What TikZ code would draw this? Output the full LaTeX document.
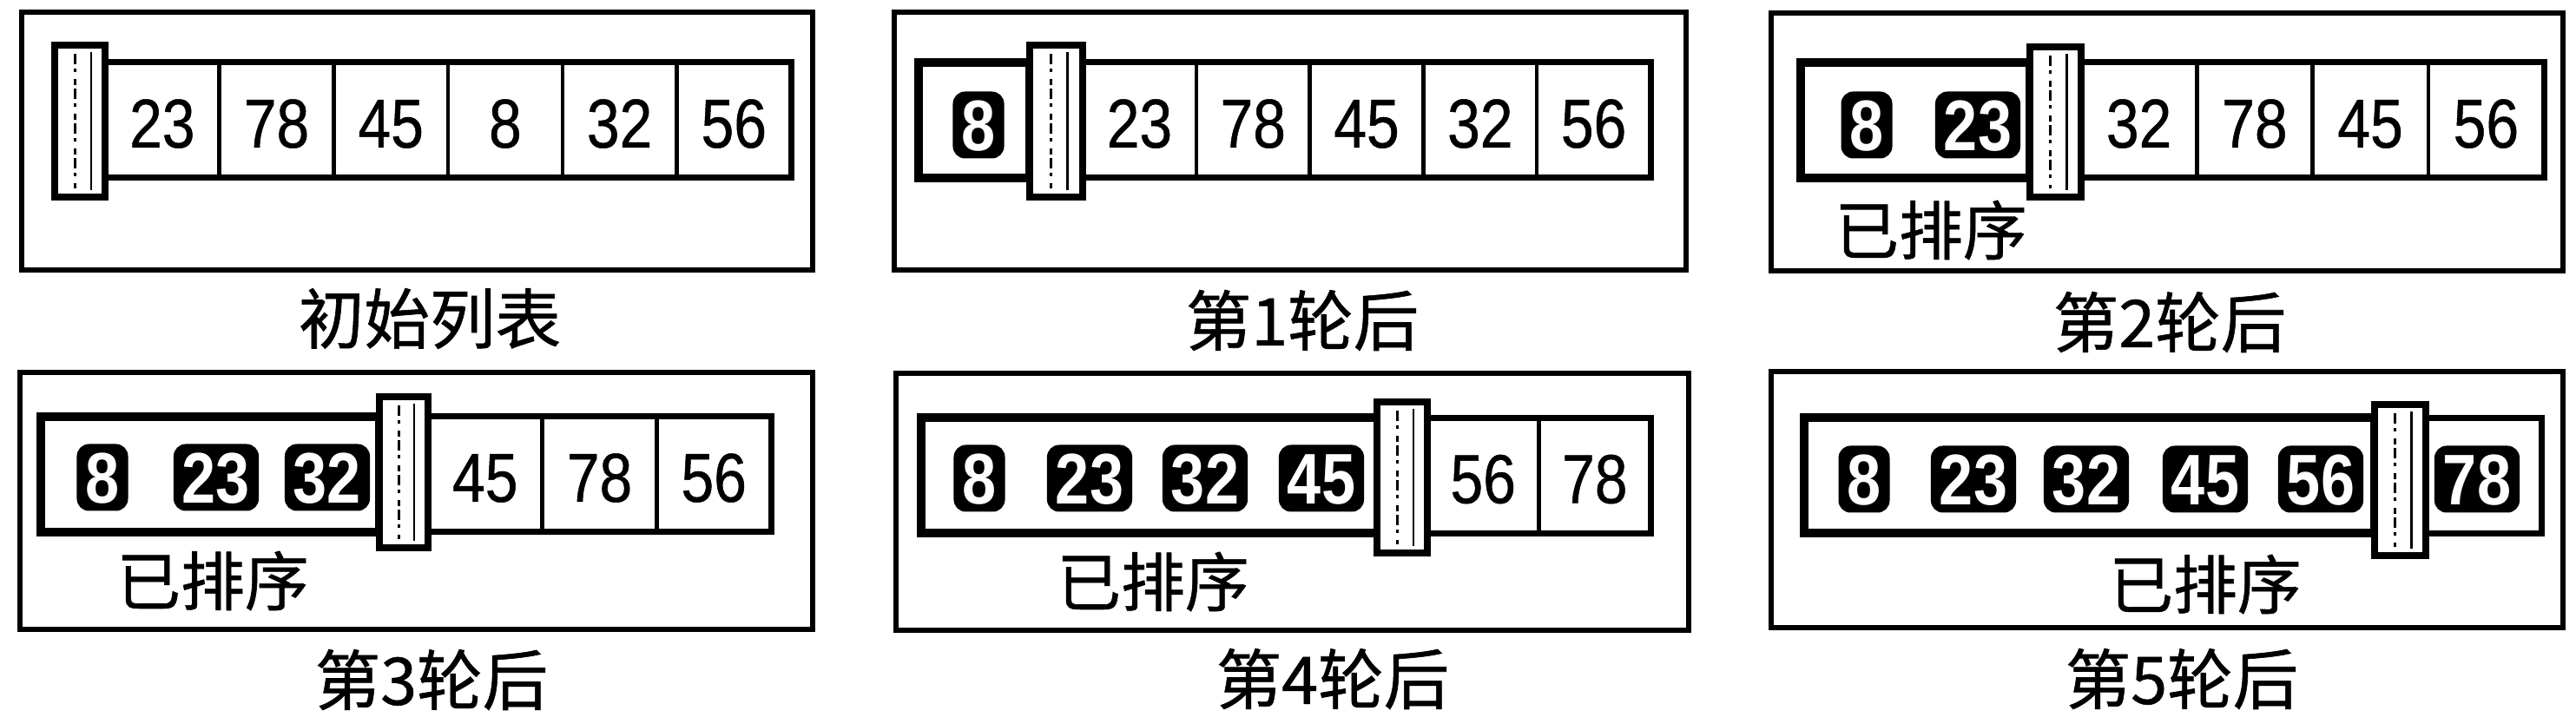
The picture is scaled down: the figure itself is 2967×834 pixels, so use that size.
\documentclass[tikz,border=0pt]{standalone}
\usepackage{fontspec}
\newfontfamily\numfam[FakeStretch=0.85,FakeBold=0.6]{Liberation Sans}
\newfontfamily\hlfam[FakeStretch=0.85]{Liberation Sans Bold}
\newfontfamily\cjk[FakeBold=0.8]{Noto Sans CJK SC}
\tikzset{
  panel/.style={draw, line width=0.6mm, inner sep=0pt, outer sep=0pt},
  cell/.style={draw, line width=0.45mm, inner sep=0pt, outer sep=0pt, minimum height=13.3mm,
    font=\numfam\fontsize{22.7pt}{27pt}\selectfont, text height=6.3mm, text depth=0pt},
  rowline/.style={line width=0.7mm},
  sortedbox/.style={draw, line width=1mm, fill=white, inner sep=0pt, outer sep=0pt, minimum height=13.3mm},
  hlnode/.style={fill=black, text=white, rounded corners=1.4mm, inner xsep=1mm, inner ysep=0.9mm,
    outer sep=0pt, font=\hlfam\fontsize{23.5pt}{28pt}\selectfont, text height=5.9mm, text depth=0pt},
  barnode/.style={draw, line width=0.8mm, fill=white, inner sep=0pt, outer sep=0pt, minimum height=17.5mm},
  bartex/.style={line width=0.25mm},
  bardash/.style={line width=0.3mm, dash pattern=on 1.2mm off 0.5mm on 0.4mm off 0.8mm on 0.7mm off 0.4mm},
  captext/.style={font=\cjk\fontsize{21.5pt}{26pt}\selectfont, inner sep=0pt},
  sortlabel/.style={font=\cjk\fontsize{21pt}{25pt}\selectfont, inner sep=0pt}
}
\begin{document}
\begin{tikzpicture}[x=0.1mm, y=-0.1mm]
\path[fill=white, use as bounding box] (0,0) rectangle (2967,834);

% ---------------- Panel 1 ----------------
\node[panel, minimum width=91.1mm, minimum height=29.7mm] (box1) at (480.5,162.5) {};
\node[cell, minimum width=13.17mm] (p1a) at (186.8,138.5) {23};
\node[cell, minimum width=13.17mm] (p1b) at (318.5,138.5) {78};
\node[cell, minimum width=13.17mm] (p1c) at (450.2,138.5) {45};
\node[cell, minimum width=13.17mm] (p1d) at (581.9,138.5) {8};
\node[cell, minimum width=13.17mm] (p1e) at (713.6,138.5) {32};
\node[cell, minimum width=13.17mm] (p1f) at (845.3,138.5) {56};
\draw[rowline] (p1a.north west) rectangle (p1f.south east);
\node[barnode, minimum width=5.8mm] (bar1) at (92,139.5) {};
\draw[bartex] ([xshift=1.3mm,yshift=-0.8mm]bar1.north) -- ([xshift=1.3mm,yshift=0.8mm]bar1.south);
\draw[bardash] ([xshift=-0.6mm,yshift=-1mm]bar1.north) -- ([xshift=-0.6mm,yshift=1mm]bar1.south);
\node[captext] (cap1) at (495,367) {初始列表};

% ---------------- Panel 2 ----------------
\node[panel, minimum width=91.2mm, minimum height=29.7mm] (box2) at (1486,162.5) {};
\node[cell, minimum width=13.08mm] (p2a) at (1312.4,138.5) {23};
\node[cell, minimum width=13.08mm] (p2b) at (1443.2,138.5) {78};
\node[cell, minimum width=13.08mm] (p2c) at (1574,138.5) {45};
\node[cell, minimum width=13.08mm] (p2d) at (1704.8,138.5) {32};
\node[cell, minimum width=13.08mm] (p2e) at (1835.6,138.5) {56};
\draw[rowline] (p2a.north west) rectangle (p2e.south east);
\node[sortedbox, minimum width=12.8mm] (s2) at (1122,138.5) {};
\node[hlnode] (h2a) at (1127,144) {8};
\node[barnode, minimum width=6.1mm] (bar2) at (1216.5,139.5) {};
\draw[bartex] ([xshift=1.3mm,yshift=-0.8mm]bar2.north) -- ([xshift=1.3mm,yshift=0.8mm]bar2.south);
\draw[bardash] ([xshift=-0.6mm,yshift=-1mm]bar2.north) -- ([xshift=-0.6mm,yshift=1mm]bar2.south);
\node[captext] (cap2) at (1500,369) {第1轮后};

% ---------------- Panel 3 ----------------
\node[panel, minimum width=91.2mm, minimum height=29.7mm] (box3) at (2496,164) {};
\node[cell, minimum width=13.33mm] (p3a) at (2463.6,138.5) {32};
\node[cell, minimum width=13.33mm] (p3b) at (2596.9,138.5) {78};
\node[cell, minimum width=13.33mm] (p3c) at (2730.1,138.5) {45};
\node[cell, minimum width=13.33mm] (p3d) at (2863.4,138.5) {56};
\draw[rowline] (p3a.north west) rectangle (p3d.south east);
\node[sortedbox, minimum width=26.4mm] (s3) at (2206,138.5) {};
\node[hlnode] (h3a) at (2150,144) {8};
\node[hlnode] (h3b) at (2278,144) {23};
\node[barnode, minimum width=5.9mm, minimum height=17.3mm] (bar3) at (2367.5,140.5) {};
\draw[bartex] ([xshift=1.3mm,yshift=-0.8mm]bar3.north) -- ([xshift=1.3mm,yshift=0.8mm]bar3.south);
\draw[bardash] ([xshift=-0.6mm,yshift=-1mm]bar3.north) -- ([xshift=-0.6mm,yshift=1mm]bar3.south);
\node[sortlabel] (lab3) at (2224,265) {已排序};
\node[captext] (cap3) at (2499,371) {第2轮后};

% ---------------- Panel 4 ----------------
\node[panel, minimum width=91.3mm, minimum height=29.6mm] (box4) at (479.5,577) {};
\node[cell, minimum width=13.17mm] (p4a) at (558.8,546.5) {45};
\node[cell, minimum width=13.17mm] (p4b) at (690.5,546.5) {78};
\node[cell, minimum width=13.17mm] (p4c) at (822.2,546.5) {56};
\draw[rowline] (p4a.north west) rectangle (p4c.south east);
\node[sortedbox, minimum width=39mm] (s4) at (242,546.5) {};
\node[hlnode] (h4a) at (118,550) {8};
\node[hlnode] (h4b) at (249,550) {23};
\node[hlnode] (h4c) at (377,550) {32};
\node[barnode, minimum width=5.6mm, minimum height=17.4mm] (bar4) at (465,544) {};
\draw[bartex] ([xshift=1.2mm,yshift=-0.8mm]bar4.north) -- ([xshift=1.2mm,yshift=0.8mm]bar4.south);
\draw[bardash] ([xshift=-0.6mm,yshift=-1mm]bar4.north) -- ([xshift=-0.6mm,yshift=1mm]bar4.south);
\node[sortlabel] (lab4) at (245,669) {已排序};
\node[captext] (cap4) at (497,783) {第3轮后};

% ---------------- Panel 5 ----------------
\node[panel, minimum width=91.3mm, minimum height=29.6mm] (box5) at (1488.5,578) {};
\node[cell, minimum width=12.85mm] (p5a) at (1708.2,548) {56};
\node[cell, minimum width=12.85mm] (p5b) at (1836.8,548) {78};
\draw[rowline] (p5a.north west) rectangle (p5b.south east);
\node[sortedbox, minimum width=52.6mm] (s5) at (1324,548) {};
\node[hlnode] (h5a) at (1128,551) {8};
\node[hlnode] (h5b) at (1255,551) {23};
\node[hlnode] (h5c) at (1388,551) {32};
\node[hlnode] (h5d) at (1522,551) {45};
\node[barnode, minimum width=5.8mm, minimum height=17.4mm] (bar5) at (1615,550) {};
\draw[bartex] ([xshift=1.3mm,yshift=-0.8mm]bar5.north) -- ([xshift=1.3mm,yshift=0.8mm]bar5.south);
\draw[bardash] ([xshift=-0.6mm,yshift=-1mm]bar5.north) -- ([xshift=-0.6mm,yshift=1mm]bar5.south);
\node[sortlabel] (lab5) at (1328,670) {已排序};
\node[captext] (cap5) at (1535,782) {第4轮后};

% ---------------- Panel 6 ----------------
\node[panel, minimum width=91.2mm, minimum height=29.5mm] (box6) at (2496,575.5) {};
\node[cell, minimum width=13.3mm] (p6a) at (2860.5,548) {};
\draw[rowline] (p6a.north west) rectangle (p6a.south east);
\node[hlnode] (h6f) at (2853,552) {78};
\node[sortedbox, minimum width=65.7mm] (s6) at (2406.5,548) {};
\node[hlnode] (h6a) at (2147,552) {8};
\node[hlnode] (h6b) at (2273,552) {23};
\node[hlnode] (h6c) at (2403,552) {32};
\node[hlnode] (h6d) at (2540,552) {45};
\node[hlnode] (h6e) at (2673,552) {56};
\node[barnode, minimum width=5.9mm, minimum height=17.4mm] (bar6) at (2764.5,553) {};
\draw[bartex] ([xshift=1.3mm,yshift=-0.8mm]bar6.north) -- ([xshift=1.3mm,yshift=0.8mm]bar6.south);
\draw[bardash] ([xshift=-0.6mm,yshift=-1mm]bar6.north) -- ([xshift=-0.6mm,yshift=1mm]bar6.south);
\node[sortlabel] (lab6) at (2540,673) {已排序};
\node[captext] (cap6) at (2513,782) {第5轮后};
\end{tikzpicture}
\end{document}
